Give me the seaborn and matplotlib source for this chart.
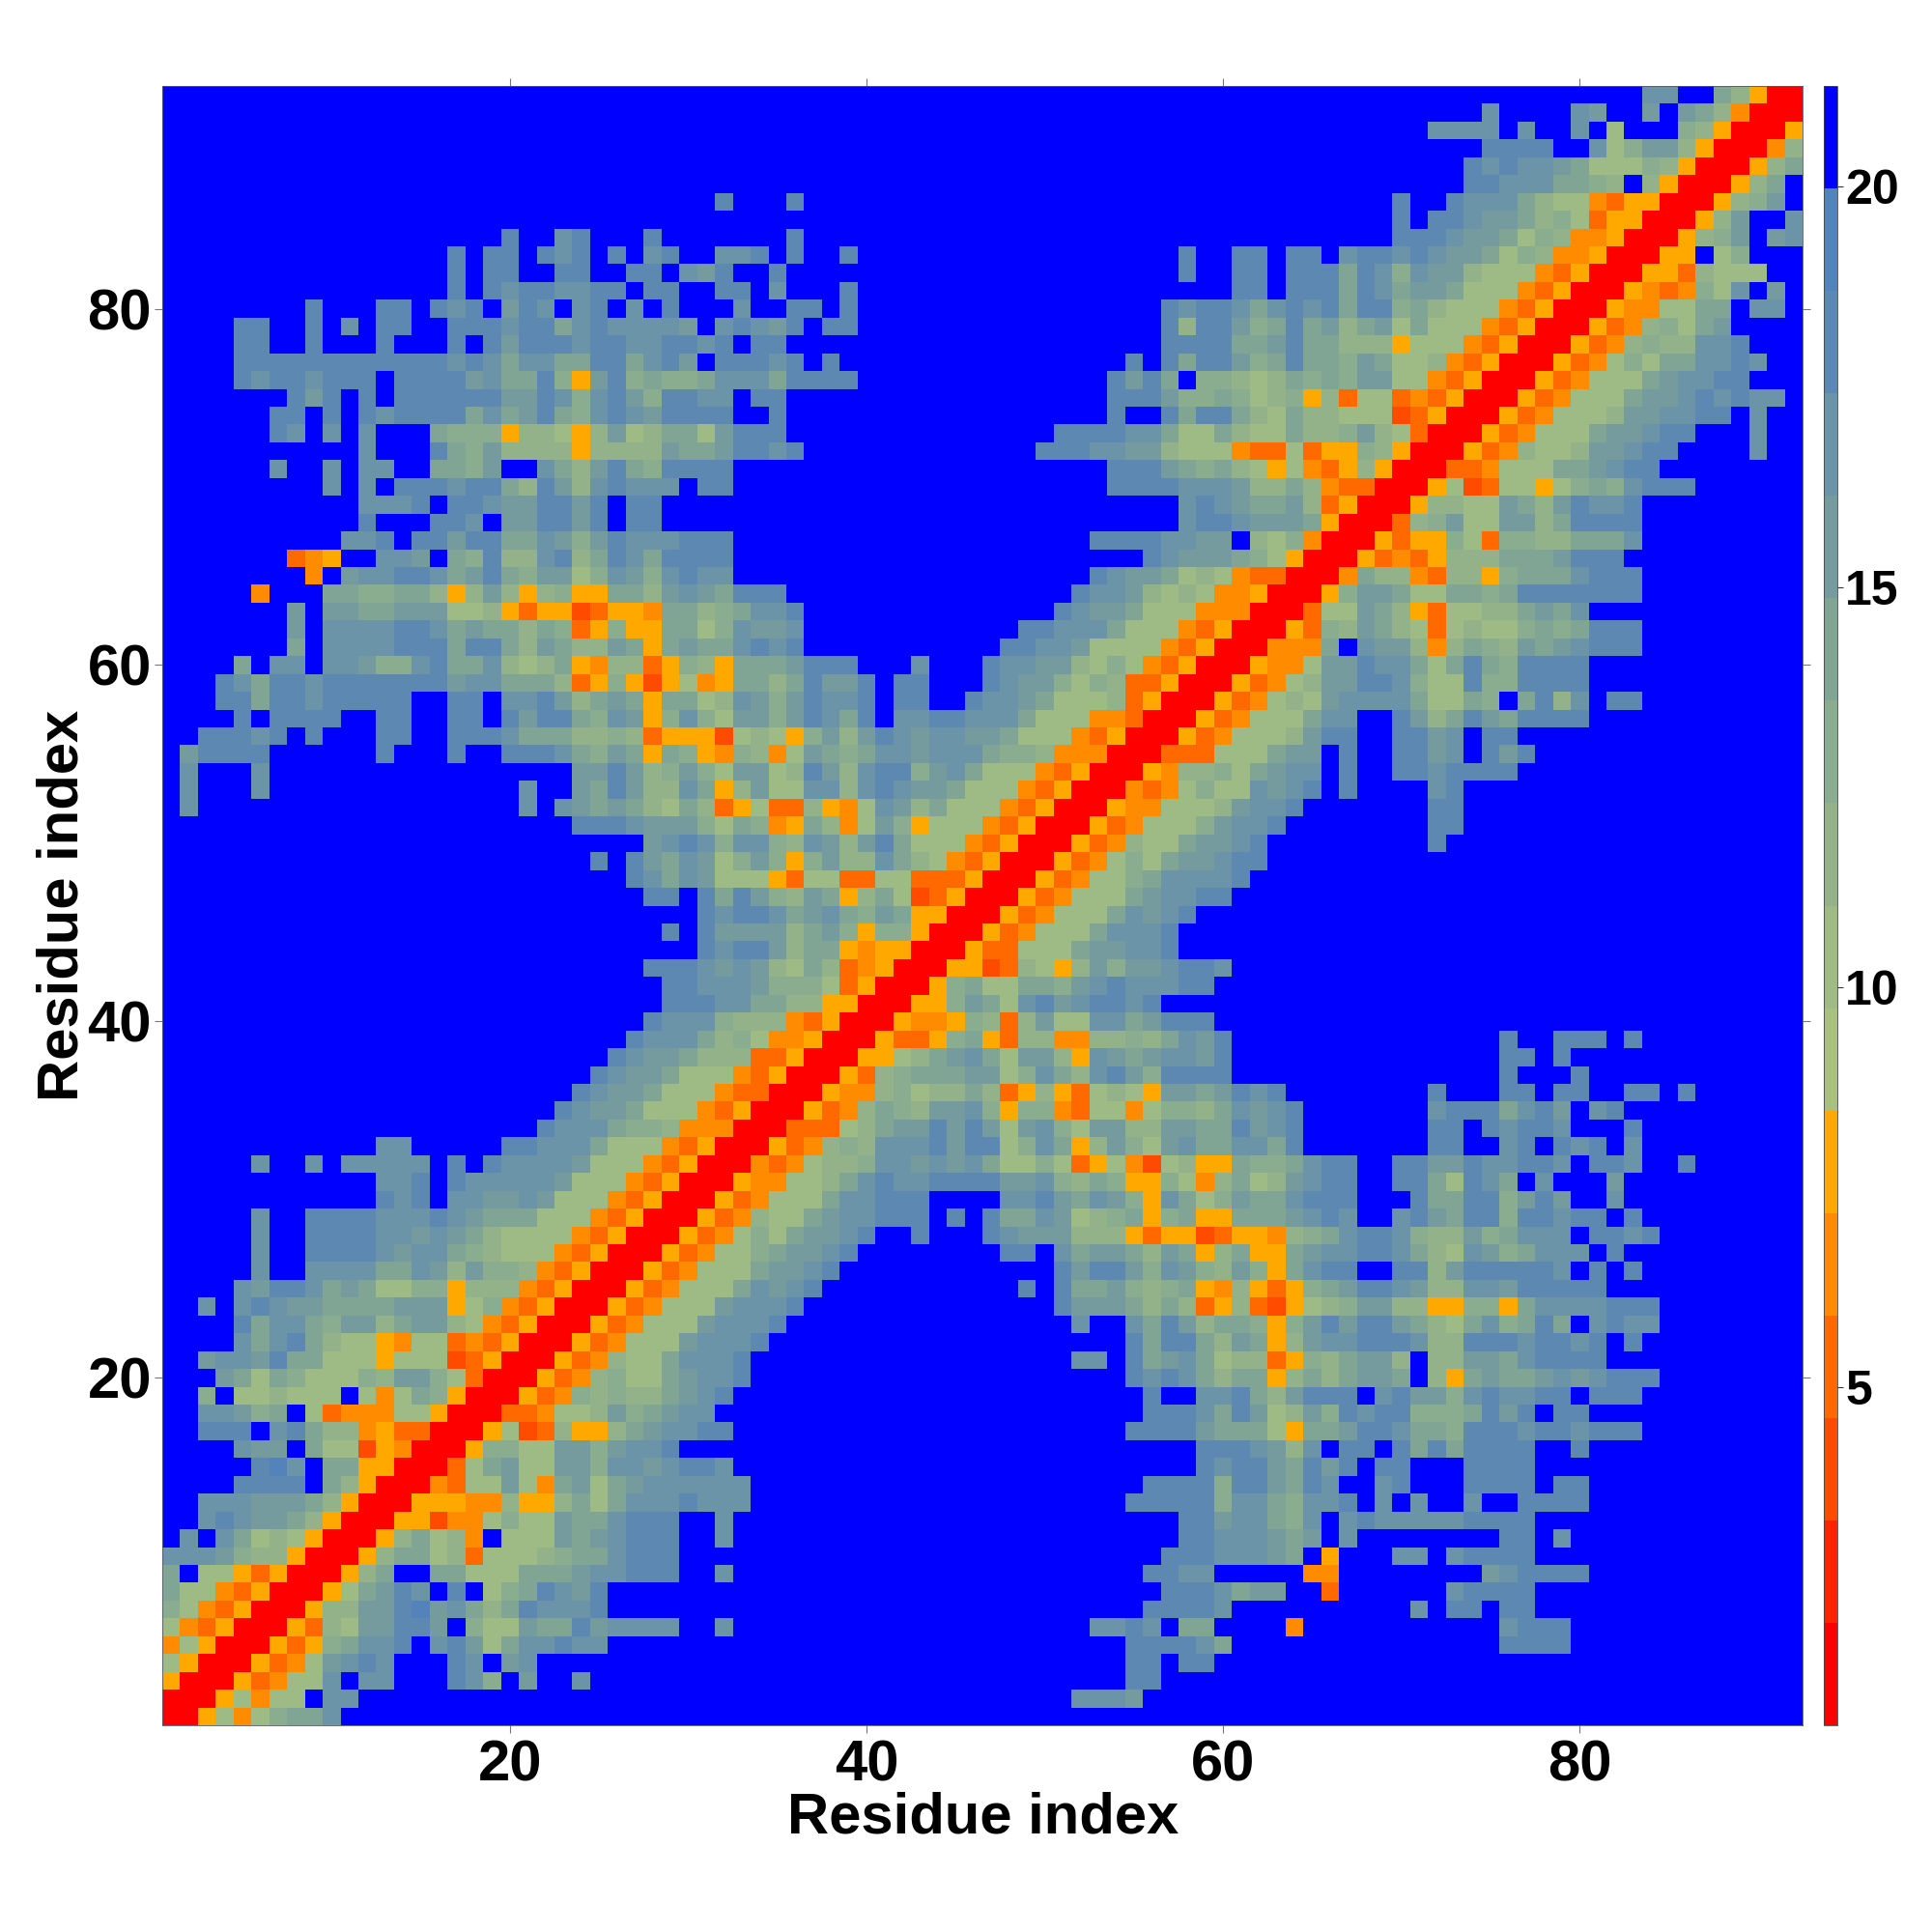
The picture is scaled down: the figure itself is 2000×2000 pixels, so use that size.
import numpy as np
import matplotlib
matplotlib.use("Agg")
import matplotlib.pyplot as plt
from matplotlib.colors import ListedColormap
import seaborn as sns

N_RESIDUES = 92
VALUE_MIN = 0.78
VALUE_MAX = 21.26
TICKS_AXES = [20, 40, 60, 80]
TICKS_BAR = [5, 10, 15, 20]
LEVEL_COLORS = ["#ff0000", "#ff2300", "#ff4b00", "#ff6900", "#ff8c00", "#ffa800",
                "#a8c082", "#9ebb85", "#93b28a", "#8aac8f", "#80a594", "#769b9e",
                "#6c94a8", "#5c88b2", "#5482ba", "#0000ff"]

# Binned distance per residue pair (upper triangle, symmetric). One hex digit per
# colour band; "start:digits" begins at that residue, anything unlisted is band f.
ROWS = {
1: "1:0", 2: "1:00", 3: "1:500", 4: "1:7500", 5: "1:47500", 6: "1:743500", 7: "1:9743500",
8: "1:a7743500", 9: "1:af7753500", 10: "1:cccb988500", 11: "1:fcfca787500",
12: "1:ffcdcbba8500", 13: "1:ffcccbbba8500", 14: "1:ffffddddfa8500", 15: "1:fffffdecfaa5500",
16: "1:ffffcbbfa7725400", 17: "1:ffdddfcda88453300", 18: "1:ffccb9af7344477500",
19: "1:ff9f778777f747a9500", 20: "1:fffba7a977798bb97300", 21: "1:ffbccbdaa777577723500",
22: "1:ffffcacda8775477343500", 23: "1:ffffdacca9bb8abb8743500",
24: "1:ffcfcdcbbaaaabbb57943500", 25: "1:ffffcbddcaba7799588843500",
26: "1:fffffcffccccaacb8b99843500",
27: "6:c 9:ddddcbcca9877743500", 28: "6:c 9:ddddccbcba8777743500",
29: "6:c 9:ddddcccdcbaaa77743500", 30: "13:dcdfccbbcb77743500",
31: "13:ccdfdcccccb77743500", 32: "6:c 9:c 11:cccccfdfdccccb77743500",
33: "13:cc 20:ddccca77743500", 34: "22:dccca99844400", 35: "23:dcbba77743500",
36: "24:dcbba77743300", 37: "25:dcbba77743500", 38: "26:dcbba88833500",
39: "27:dccca89744500", 40: "28:dccc988843500", 41: "29:dddccaa885500",
42: "29:ddcccb99973500", 43: "28:dddcbcb87a834500", 44: "31:dcddb8aa545500",
45: "29:dfdbbbb8ab9599500", 46: "31:dcddcabca9ba5500", 47: "28:ddfdadb98ba58a723500",
48: "27:dcacb77753773377333500", 49: "25:dfdbacb79b959b88ca8743500",
50: "28:bcdc9cc98cb8bda77743500", 51: "24:dddcbbb97a945a847b9577743500",
52: "2:c 21:cfcbaba87a8357338547cb8a77743500",
53: "2:c 6:c 21:cffbadb88ca58b77cc8cdcbba77743500",
54: "2:c 6:c 24:bbdb89b97bb78db8cdd9bca77743500",
55: "2:bdddd 13:d 17:d 20:dddca9ba5a9549847ba9accbccca99844400",
56: "3:dddcdfd 13:dd 17:dddc 21:aaa88983555278759b8bdcbccbba77743500",
57: "5:dfdddd 13:dd 17:dd 20:d 21:bdda9cb59c97bb9bdcadfccddccca77744300",
58: "4:ddaddcddddd 17:dd 20:c 21:cdb8aba5aa78cb9bdccdfddffdccba77783500",
59: "4:dcaddcd 11:dddddd 17:bcca 21:aa8359525745 33:aa8adbbdfddfffdcbb979833500",
60: "5:afccfccb99cd 17:aac8 21:78a548835985 33:aaabddd 43:c 47:dccbb879743500",
61: "8:afccccdddadda 21:8ba88ba5abaacdcd 48:ddccb777743500",
62: "8:bfccccddcabaa 21:8a935955aa79cbbc 49:ddccca77743500",
63: "8:bfbbaabbb7785 21:35523554aa89accd 51:dcbba77744400",
64: "6:4 10:aa99aa858b8 21:58955aa8bcbaddd 52:dccb878744500",
65: "9:4fbccddcabda 21:9bb79cb9cdcc 53:dcbba78743300",
66: "8:345ffccbfa9d8 21:8cd8adcadddd 56:dcbbba97500",
67: "11:ccdfddbdda 21:acb9bdcccddd 53:ddddccbbf879400",
68: "12:d 16:ddcfb 21:bddbdfdd 58:cddcbbba500",
69: "12:cccdfddcb 21:bddbdfdd 58:cdcbaab83500",
70: "10:c 12:cfdddcdda 21:8db8cdcccfdd 54:ddddcccb88a843300",
71: "7:c 10:c 12:ccffaa9bf 21:fca8bda9dddd 54:dddba9a87574358500",
72: "12:c 16:da9b8 21:88858888baabddcd 50:dddccbb8777433735598500",
73: "7:dcfcfcfffa9995 21:88758b78aa7bddd 51:ddddcca77a877a889b87300",
74: "7:ddfdfdcddddaca 21:bda9cdcbddddffd 54:dffdadda87a8877723500",
75: "8:dbdfdfddddddb 21:bdc9cdb9ddccfdd 54:dddb99a978958377343500",
76: "5:dcddcdddfddddbca 21:ad95bd9a99acccadddd 54:dbdaf99878a9a9bb7743500",
77: "5:ddddddddddddcdca 21:ccaaddacdbfdddcdfd 55:dfdaddb9adaa9ba77843500",
78: "5:dd 9:d 13:d 17:dfdb 21:dddcddccddcdfdd 57:ddddaabdaa888577743500",
79: "5:dd 9:d 11:c 13:dd 17:dddc 21:ddacdccccbfcdcbdfdd 57:d8ddb9adab8ab7a77743500",
80: "9:d 13:dd 16:dcdfb 21:dcfcdfcfdfffcffddfd 57:dcddcacdcdadd9a877743500",
81: "17:dfdc 21:ddccddfddffddfcfffd 61:ddfdddadcabba77743500",
82: "17:dfdd 21:ffddffddfcbdffd 58:d 61:ddfdddadc9cbb877743500",
83: "17:dfdd 21:fdcdfdfcdffccdfdffd 58:d 61:dd 64:dd 67:cddcdcbba79844500",
84: "20:d 23:cd 28:d 36:d 70:dddcbba79844500",
85: "70:d 72:ddcbba89735500",
86: "32:d 36:d 70:d 73:dccca877435500",
87: "74:ddcccaa98f8500",
88: "74:dcdccba77798500",
89: "75:ddddffc79bb8500",
90: "72:ccccfcffcf7fff98500",
91: "75:c 80:cb 84:bfba8400",
92: "84:ccffa8500",
}


def band_table():
    bands = np.full((N_RESIDUES, N_RESIDUES), 15, dtype=int)
    for row, text in ROWS.items():
        for token in text.split():
            start, digits = token.split(":")
            for k, ch in enumerate(digits):
                col = int(start) + k
                if col <= row:
                    bands[row - 1, col - 1] = int(ch, 16)
                    bands[col - 1, row - 1] = int(ch, 16)
    for i in range(N_RESIDUES):
        for j in range(N_RESIDUES):
            if abs(i - j) <= 1:
                bands[i, j] = 0
    return bands


step = (VALUE_MAX - VALUE_MIN) / len(LEVEL_COLORS)
matrix = VALUE_MIN + step * (band_table() + 0.5)

sns.set_theme(style="white")
plt.rcParams["font.family"] = ["Liberation Sans", "DejaVu Sans"]
plt.rcParams["font.weight"] = "bold"

W, H = 2000, 2000
fig = plt.figure(figsize=(W / 100, H / 100), dpi=100, facecolor="white")
ax = fig.add_axes([168 / W, 1 - 1786 / H, (1866 - 168) / W, (1786 - 89) / H])
cax = fig.add_axes([1888 / W, 1 - 1786 / H, 14 / W, (1786 - 89) / H])

sns.heatmap(matrix, ax=ax, cbar_ax=cax, cmap=ListedColormap(LEVEL_COLORS),
            vmin=VALUE_MIN, vmax=VALUE_MAX, square=False,
            xticklabels=False, yticklabels=False, cbar=True)
ax.invert_yaxis()

positions = [t - 0.5 for t in TICKS_AXES]
ax.set_xticks(positions)
ax.set_xticklabels([str(t) for t in TICKS_AXES], fontsize=43, fontweight="bold", color="black")
ax.set_yticks(positions)
ax.set_yticklabels([str(t) for t in TICKS_AXES], fontsize=43, fontweight="bold", color="black",
                   rotation=0)
ax.tick_params(axis="both", which="major", length=5.5, width=0.8, color="#777777",
               top=True, right=True, bottom=True, left=True,
               labeltop=False, labelright=False)
ax.tick_params(axis="x", pad=5)
ax.tick_params(axis="y", pad=2.5)
for spine in ax.spines.values():
    spine.set_visible(True)
    spine.set_linewidth(0.6)
    spine.set_color("#555566")

ax.set_xlabel("Residue index", fontsize=43, fontweight="bold", color="black")
ax.set_ylabel("Residue index", fontsize=43, fontweight="bold", color="black")
ax.xaxis.set_label_coords((1018 - 168) / (1866 - 168), -(1882 - 1786) / (1786 - 89), transform=ax.transAxes)
ax.yaxis.set_label_coords((65 - 168) / (1866 - 168), (1786 - 937) / (1786 - 89), transform=ax.transAxes)
ax.xaxis.label.set_va("center")
ax.yaxis.label.set_va("center")

cbar = ax.collections[0].colorbar
cbar.set_ticks(TICKS_BAR)
cbar.set_ticklabels([str(t) for t in TICKS_BAR])
cbar.ax.tick_params(length=4, width=0.8, color="#333333", labelsize=36, pad=2, labelcolor="black")
for lab in cbar.ax.get_yticklabels():
    lab.set_fontweight("bold")
cbar.outline.set_visible(True)
cbar.outline.set_linewidth(0.6)
cbar.outline.set_edgecolor("#444444")

fig.savefig("out.png", dpi=100, facecolor="white")
